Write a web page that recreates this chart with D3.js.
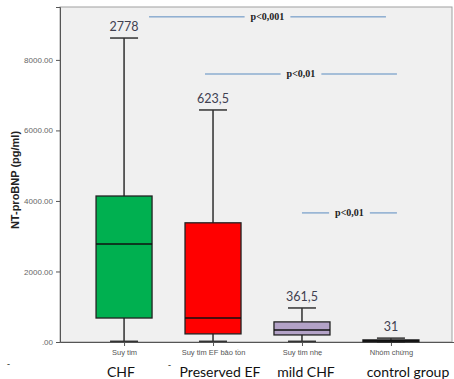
<!DOCTYPE html>
<html>
<head>
<meta charset="utf-8">
<script src="https://cdn.jsdelivr.net/npm/d3@7"></script>
<style>
  body { margin: 0; background: #fff; }
  svg { display: block; }
</style>
</head>
<body>
<script>
// data
var groups = ["Suy tim", "Suy tim EF bảo tồn", "Suy tim nhẹ", "Nhóm chứng"];
var groupsEn = ["CHF", "Preserved EF", "mild CHF", "control group"];
var whiskerLow = [20, 20, 20, 0];
var q1 = [680, 230, 200, 8];
var median = [2780, 680, 340, 31];
var q3 = [4140, 3380, 570, 60];
var whiskerHigh = [8620, 6580, 965, 110];
var topLabels = ["2778", "623,5", "361,5", "31"];
var boxColors = ["#00b050", "#ff0000", "#b3a2c7", "#b3a2c7"];
var yTicks = [0, 2000, 4000, 6000, 8000];
// significance brackets: from group, to group, value level, text
var sigFrom = [0, 1, 2];
var sigTo = [3, 3, 3];
var sigLevel = [9220, 7600, 3660];
var sigText = ["p<0,001", "p<0,01", "p<0,01"];

var width = 454, height = 379;
var svg = d3.select("body").append("svg")
    .attr("width", width)
    .attr("height", height);

var x = d3.scalePoint()
    .domain(groups)
    .range([60, 455])
    .padding(0.72);
var y = d3.scaleLinear()
    .domain([0, 9500])
    .range([342, 7]);

// plot background
svg.append("rect")
    .attr("x", 60).attr("y", 7)
    .attr("width", 392).attr("height", 335)
    .attr("fill", "#f0f0f0")
    .attr("stroke", "#a0a0a0");

// y axis
var yAxis = svg.append("g")
    .attr("transform", "translate(60,0)")
    .call(d3.axisLeft(y).tickValues(yTicks).tickSize(4)
      .tickFormat(function(d) { return d === 0 ? ".00" : d3.format(".2f")(d); }));
yAxis.select(".domain").attr("stroke", "#555");
yAxis.selectAll(".tick line").attr("stroke", "#555");
yAxis.selectAll("text")
    .attr("font-family", "Liberation Sans, Arial, sans-serif")
    .attr("font-size", 8)
    .attr("fill", "#666");

// x axis
var xAxis = svg.append("g")
    .attr("transform", "translate(0,342)")
    .call(d3.axisBottom(x).tickSize(4).tickSizeOuter(0));
xAxis.select(".domain").attr("stroke", "#555");
xAxis.selectAll(".tick line").attr("stroke", "#555");
xAxis.selectAll("text")
    .attr("y", 8)
    .attr("font-family", "Liberation Sans, Arial, sans-serif")
    .attr("font-size", 7.5)
    .attr("fill", "#555");

svg.append("text")
    .attr("transform", "translate(19,180) rotate(-90)")
    .attr("text-anchor", "middle")
    .attr("font-family", "Liberation Sans, Arial, sans-serif")
    .attr("font-weight", "bold")
    .attr("font-size", 11)
    .attr("fill", "#222")
    .text("NT-proBNP (pg/ml)");

// boxes
var boxW = 56, capW = 28;
var g = svg.append("g");
groups.forEach(function(name, i) {
  var cx = x(name);
  g.append("line")
      .attr("x1", cx).attr("x2", cx)
      .attr("y1", y(whiskerLow[i])).attr("y2", y(whiskerHigh[i]))
      .attr("stroke", "#111").attr("stroke-width", 1.3);
  [whiskerLow[i], whiskerHigh[i]].forEach(function(v) {
    g.append("line")
        .attr("x1", cx - capW / 2).attr("x2", cx + capW / 2)
        .attr("y1", y(v)).attr("y2", y(v))
        .attr("stroke", "#333").attr("stroke-width", 1.5);
  });
  g.append("rect")
      .attr("x", cx - boxW / 2).attr("width", boxW)
      .attr("y", y(q3[i])).attr("height", y(q1[i]) - y(q3[i]))
      .attr("fill", boxColors[i])
      .attr("stroke", "#222").attr("stroke-width", 1.3);
  g.append("line")
      .attr("x1", cx - boxW / 2).attr("x2", cx + boxW / 2)
      .attr("y1", y(median[i])).attr("y2", y(median[i]))
      .attr("stroke", "#111").attr("stroke-width", 1.6);
  g.append("text")
      .attr("x", cx).attr("y", y(whiskerHigh[i]) - 7)
      .attr("text-anchor", "middle")
      .attr("font-family", "Lato, Open Sans, sans-serif")
      .attr("font-size", 12.5)
      .attr("fill", "#404050")
      .text(topLabels[i]);
});

// significance brackets
var fromOff = [25, -8, 0], toOff = [-5, 6, 6];
sigText.forEach(function(t, i) {
  var x1 = x(groups[sigFrom[i]]) + fromOff[i],
      x2 = x(groups[sigTo[i]]) + toOff[i];
  var yy = y(sigLevel[i]);
  var mid = (x1 + x2) / 2;
  var label = svg.append("text")
      .attr("x", mid).attr("y", yy + 3)
      .attr("text-anchor", "middle")
      .attr("font-family", "Liberation Serif, Times New Roman, serif")
      .attr("font-weight", "bold")
      .attr("font-size", 10)
      .attr("fill", "#222")
      .text(t);
  var half = label.node().getComputedTextLength() / 2 + 6;
  svg.append("line")
      .attr("x1", x1).attr("x2", mid - half)
      .attr("y1", yy).attr("y2", yy)
      .attr("stroke", "#5b8cc0");
  svg.append("line")
      .attr("x1", mid + half).attr("x2", x2)
      .attr("y1", yy).attr("y2", yy)
      .attr("stroke", "#5b8cc0");
});

// English labels
var enX = [121, 220, 306, 408];
svg.selectAll(".en")
    .data(groupsEn)
  .enter().append("text")
    .attr("class", "en")
    .attr("x", function(d, i) { return enX[i]; })
    .attr("y", 377)
    .attr("text-anchor", "middle")
    .attr("font-family", "Lato, Open Sans, sans-serif")
    .attr("font-size", 14)
    .attr("fill", "#111")
    .text(function(d) { return d; });

svg.append("text").attr("x", 7).attr("y", 367).attr("font-size", 9).text("-");
svg.append("text").attr("x", 168).attr("y", 368).attr("font-size", 9).text("-");
</script>
</body>
</html>
